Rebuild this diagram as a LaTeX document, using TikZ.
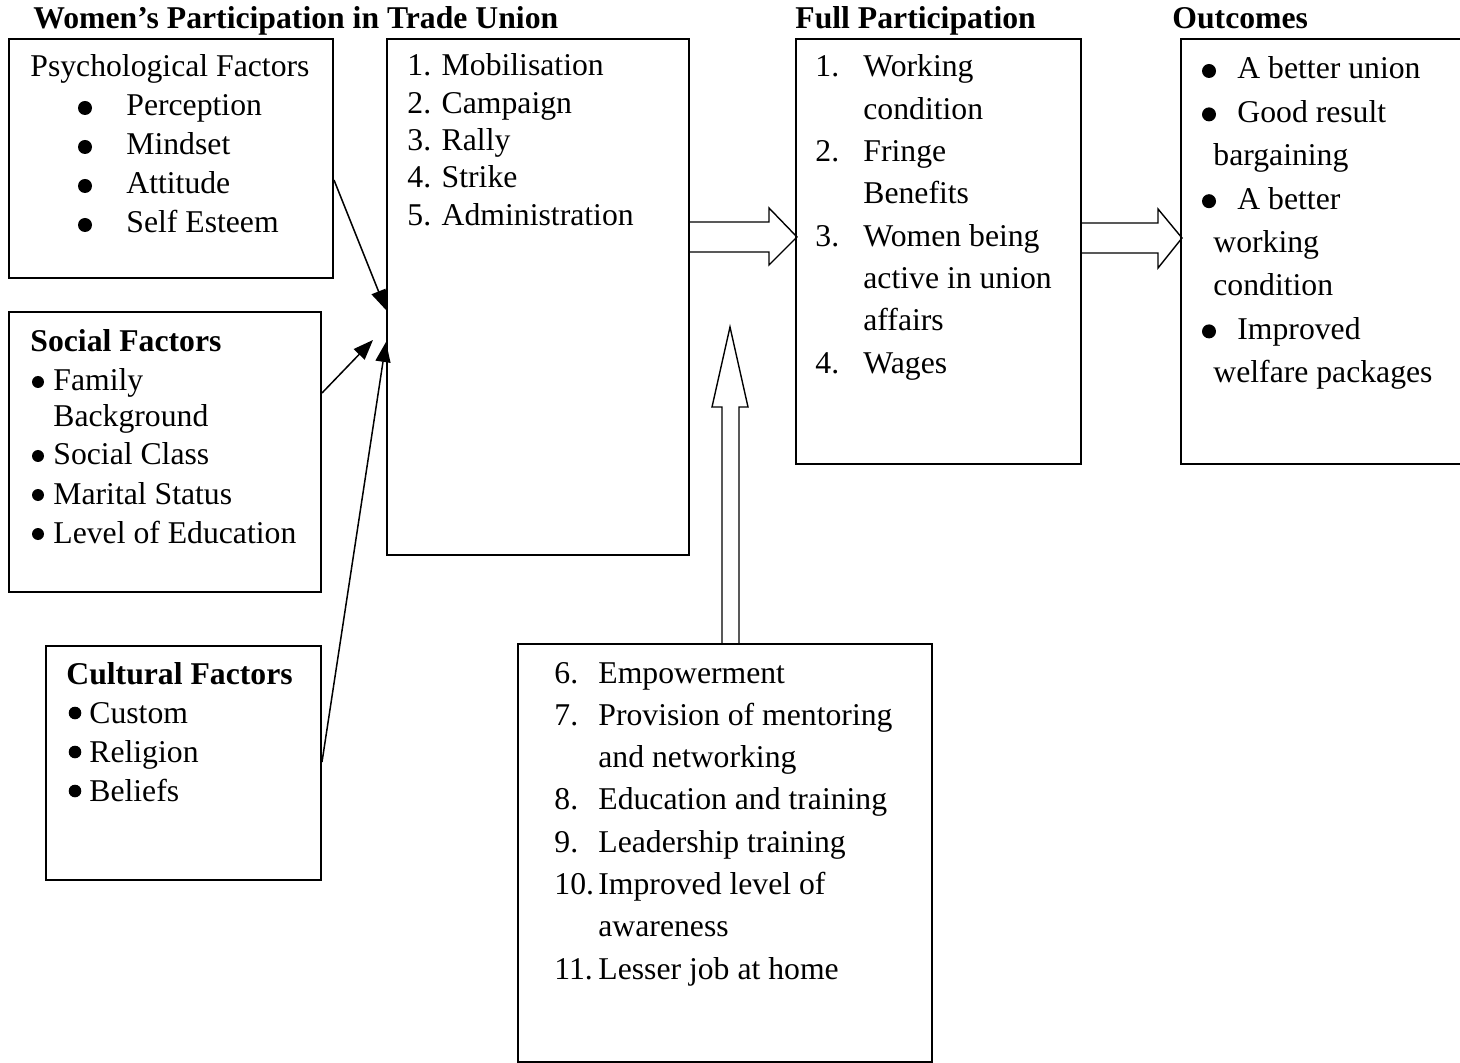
\documentclass[tikz,border=0pt]{standalone}
\usepackage{fontspec}
\setmainfont{Liberation Serif}
\usetikzlibrary{arrows.meta,calc}

\begin{document}
\begin{tikzpicture}[x=0.5pt,y=-0.5pt,
    box/.style={draw, line width=1pt, inner sep=0pt, anchor=north west},
    txt/.style={anchor=base west, inner sep=0pt, font=\fontsize{15.85pt}{19pt}\selectfont},
    dot/.style={circle, fill, inner sep=0pt, minimum size=#1},
    dot/.default=7pt,
    head/.style={txt, font=\fontsize{15.85pt}{19pt}\selectfont\bfseries},
    thin/.style={line width=0.75pt, -{Triangle[length=10pt,width=7.5pt]}},
    hollow/.style={line width=0.7pt, line join=miter}]
    \useasboundingbox (0,0) rectangle (1460,1063);

    % headings
    \node[head] (tunion) at (33,29) {Women’s Participation in Trade Union};
    \node[head] (tfull) at (795,29) {Full Participation};
    \node[head] (tout) at (1172,29) {Outcomes};

    % boxes
    \node[box, minimum width=162pt, minimum height=119.5pt] (psy) at (8,38) {};
    \node[box, minimum width=156pt, minimum height=140pt] (soc) at (8,311) {};
    \node[box, minimum width=137.5pt, minimum height=117pt] (cul) at (45,645) {};
    \node[box, minimum width=151pt, minimum height=258pt] (mid) at (386,38) {};
    \node[box, minimum width=142.5pt, minimum height=212.5pt] (full) at (795,38) {};
    \node[box, minimum width=150pt, minimum height=212.5pt] (out) at (1180,38) {};
    \node[box, minimum width=207pt, minimum height=209pt] (help) at (517,643) {};

    % psychological factors
    \node[txt] (psyhead) at (30,77) {Psychological Factors};
    \foreach \t [count=\i] in {Perception, Mindset, Attitude, Self Esteem} {
        \node[dot] (psyb\i) at (85,{77+39*\i-8}) {};
        \node[txt] (psy\i) at (126,{77+39*\i}) {\t};
    }

    % social factors
    \node[head] (sochead) at (30,352) {Social Factors};
    \foreach \y/\t [count=\i] in {391/Family, 427/Background, 465/Social Class, 504/Marital Status, 543/Level of Education}
        \node[txt] (soc\i) at (53,\y) {\t};
    \foreach \y [count=\i] in {391,465,504,543}
        \node[dot=6pt] (socb\i) at (38,\y-9) {};

    % cultural factors
    \node[head] (culhead) at (66,684) {Cultural Factors};
    \foreach \t [count=\i] in {Custom, Religion, Beliefs} {
        \node[dot=6.3pt] (culb\i) at (75,{684+39*\i-10}) {};
        \node[txt] (cul\i) at (89,{684+39*\i}) {\t};
    }

    % activities
    \foreach \t [count=\i] in {Mobilisation, Campaign, Rally, Strike, Administration}
        \node[txt] (mid\i) at (407,{76+37.3*(\i-1)}) {\i. \t};

    % full participation
    \foreach \n/\t [count=\k from 0] in {1./Working, /condition, 2./Fringe, /Benefits,
            3./Women being, /active in union, /affairs, 4./Wages}
        \node[txt] (full\k) at (863,{77+42.3*\k}) {\llap{\makebox[24pt][l]{\n}}\t};

    % outcomes
    \foreach \x/\t [count=\k from 0] in {1237/A better union, 1237/Good result, 1213/bargaining,
            1237/A better, 1213/working, 1213/condition, 1237/Improved, 1213/welfare packages}
        \node[txt] (out\k) at (\x,{79+43.4*\k}) {\t};
    \foreach \k in {0,1,3,6}
        \node[dot=7pt] (outb\k) at (1209,{79+43.4*\k-8}) {};

    % supporting measures
    \foreach \n/\t [count=\k from 0] in {6./Empowerment, 7./Provision of mentoring, /and networking,
            8./Education and training, 9./Leadership training, 10./Improved level of,
            /awareness, 11./Lesser job at home}
        \node[txt] (help\k) at (598,{683+42.3*\k}) {\llap{\makebox[22pt][l]{\n}}\t};

    % arrows into the activities
    \coordinate (socend) at (373,340);
    \draw[thin] ($(psy.north east)+(0,142)$) -- ($(mid.north west)+(0,272)$);
    \draw[thin] ($(soc.north east)+(0,82)$) -- (socend);
    \draw[thin] ($(cul.north east)+(0,117)$) -- ($(mid.north west)+(0,304)$);

    % block arrows
    \draw[hollow] (mid.north east) ++(0,184) -- ++(79,0) -- ++(0,-14) -- ++(28,29)
        -- ++(-28,28) -- ++(0,-13) -- ++(-79,0);
    \draw[hollow] (full.north east) ++(0,185) -- ++(76,0) -- ++(0,-14) -- ++(24,29)
        -- ++(-24,30) -- ++(0,-15) -- ++(-76,0);
    \draw[hollow] (help.north west) ++(205,0) -- ++(0,-236) -- ++(-10,0) -- ++(18,-80)
        -- ++(18,80) -- ++(-9,0) -- ++(0,236);
\end{tikzpicture}
\end{document}
